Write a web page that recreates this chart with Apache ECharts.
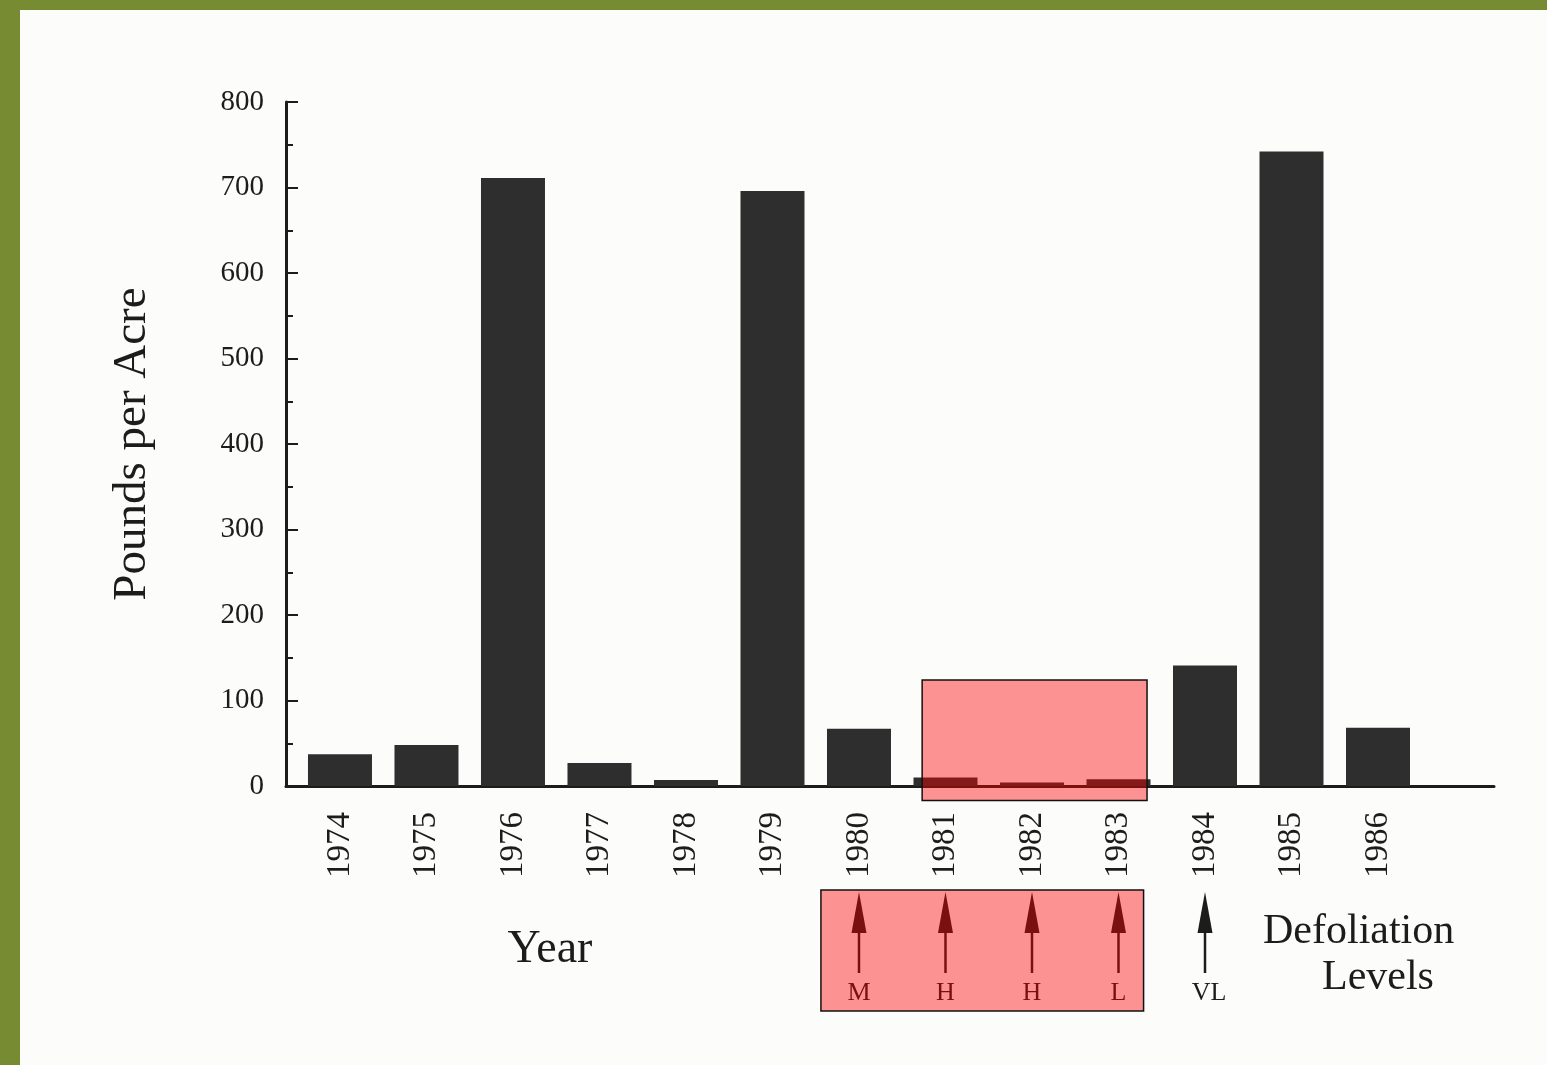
<!DOCTYPE html>
<html><head><meta charset="utf-8">
<script src="https://cdn.jsdelivr.net/npm/echarts@6/dist/echarts.min.js"></script>
<style>
html,body{margin:0;padding:0;background:#778b33;width:1547px;height:1065px;overflow:hidden}
#c{position:absolute;left:20px;top:10px;width:1527px;height:1055px;background:#fcfcfb}
</style></head><body><div id="c"></div>
<script>
// ---- data ----
const years = [1974,1975,1976,1977,1978,1979,1980,1981,1982,1983,1984,1985,1986];
const pounds = [37,48,711,27,7,696,67,10,4,8,141,742,68];
const defoliationYears = [1980,1981,1982,1983,1984];
const defoliationLevels = ['M','H','H','L','VL'];
const highlightBarYears = [1980.73, 1983.33];
const highlightBarPounds = [-17, 124];
const highlightLevelYears = [1979.56, 1983.29];

const FONT = '"Liberation Serif", "DejaVu Serif", serif';
const INK = '#1c1c1c';
const chart = echarts.init(document.getElementById('c'), null, {renderer:'canvas'});

chart.setOption({
  animation:false,
  backgroundColor:'#fcfcfb',
  grid:{left:266, right:53, top:92, bottom:279},
  xAxis:{
    type:'value', min:1973.376, max:1987.341,
    axisLine:{show:true, onZero:false, lineStyle:{color:INK, width:3}},
    axisTick:{show:false}, splitLine:{show:false},
    axisLabel:{customValues:years, rotate:90, margin:26, fontSize:33, fontFamily:FONT, color:INK,
      formatter:v=>String(v)}
  },
  yAxis:{
    type:'value', min:0, max:800, interval:100,
    axisLine:{show:true, lineStyle:{color:INK, width:3}},
    axisTick:{show:true, inside:true, length:12, lineStyle:{color:INK, width:2}},
    minorTick:{show:true, splitNumber:2, length:7, lineStyle:{color:INK, width:2}},
    splitLine:{show:false},
    axisLabel:{margin:22, fontSize:29, fontFamily:FONT, color:INK},
    name:'Pounds per Acre', nameLocation:'middle', nameGap:130,
    nameTextStyle:{fontSize:47, fontFamily:FONT, color:INK}
  },
  series:[{
    type:'bar', barWidth:64,
    data:years.map((y,i)=>[y,pounds[i]]),
    itemStyle:{color:'#2e2e2e'}
  }]
});

const px = y => chart.convertToPixel({xAxisIndex:0}, y);
const py = v => chart.convertToPixel({yAxisIndex:0}, v);
const g = [];
g.push({type:'text', x:530, y:940, style:{text:'Year', font:'46px '+FONT, fill:INK, textAlign:'center', textVerticalAlign:'middle'}});
g.push({type:'text', x:1243, y:922, style:{text:'Defoliation', font:'42px '+FONT, fill:INK, textAlign:'left', textVerticalAlign:'middle'}});
g.push({type:'text', x:1302, y:968, style:{text:'Levels', font:'42px '+FONT, fill:INK, textAlign:'left', textVerticalAlign:'middle'}});
defoliationYears.forEach((yr,i)=>{
  const x = px(yr);
  g.push({type:'polygon', shape:{points:[[x-7.5,923],[x,882],[x+7.5,923]]}, style:{fill:INK}});
  g.push({type:'line', shape:{x1:x,y1:920,x2:x,y2:963}, style:{stroke:INK, lineWidth:2.5}});
  g.push({type:'text', x:x + (defoliationLevels[i].length>1?4:0), y:983, style:{text:defoliationLevels[i], font:'26px '+FONT, fill:INK, textAlign:'center', textVerticalAlign:'middle'}});
});
const bx1 = px(highlightBarYears[0]), bx2 = px(highlightBarYears[1]);
const by1 = py(highlightBarPounds[1]), by2 = py(highlightBarPounds[0]);
g.push({type:'rect', z:100, shape:{x:bx1, y:by1, width:bx2-bx1, height:by2-by1}, style:{fill:'rgba(255,0,0,0.42)', stroke:'#111', lineWidth:1.5}});
const lx1 = px(highlightLevelYears[0]), lx2 = px(highlightLevelYears[1]);
g.push({type:'rect', z:100, shape:{x:lx1, y:880, width:lx2-lx1, height:121}, style:{fill:'rgba(255,0,0,0.42)', stroke:'#111', lineWidth:1.5}});
chart.setOption({graphic:g});
</script></body></html>
